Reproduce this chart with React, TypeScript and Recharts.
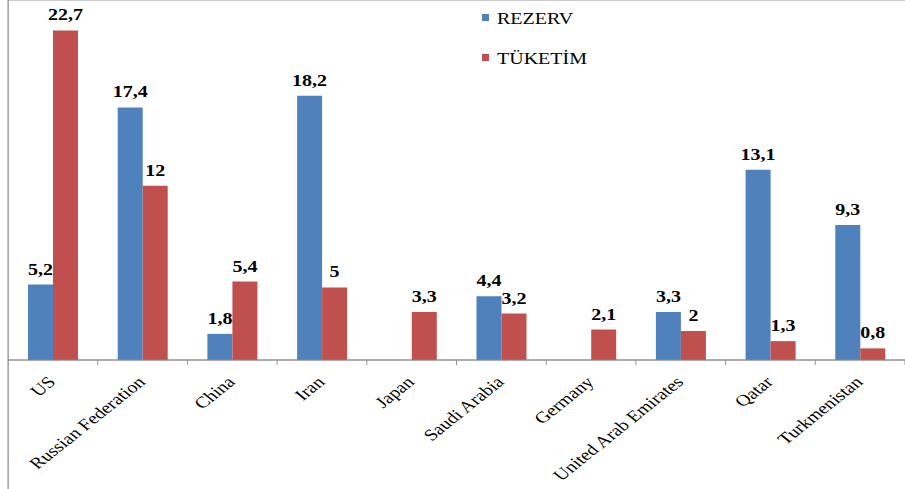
import React from 'react';
import { BarChart, Bar, XAxis, YAxis, CartesianGrid, LabelList, Legend } from 'recharts';

const categories = ['US', 'Russian Federation', 'China', 'Iran', 'Japan', 'Saudi Arabia', 'Germany', 'United Arab Emirates', 'Qatar', 'Turkmenistan'];
const rezerv: (number | null)[] = [5.2, 17.4, 1.8, 18.2, null, 4.4, null, 3.3, 13.1, 9.3];
const tuketim: (number | null)[] = [22.7, 12, 5.4, 5, 3.3, 3.2, 2.1, 2, 1.3, 0.8];
const yTicks = [0, 5, 10, 15, 20];
const seriesNames = ['REZERV', 'TÜKETİM'];

const data = categories.map((c, i) => ({ name: c, rezerv: rezerv[i], tuketim: tuketim[i] }));

const FONT = '"Times New Roman", "Liberation Serif", serif';
const BLUE = '#4F81BD';
const RED = '#C0504D';
const GRID = '#8a8a8a';

const W = 724;
const H = 489;
const LEFT = 6.4;

const fmt = (v: any) => (v === null || v === undefined ? '' : String(v).replace('.', ','));

const XTick = (props: any) => {
  const { x, y, payload } = props;
  const half = payload && payload.offset ? payload.offset : (W - LEFT) / categories.length / 2;
  return (
    <g>
      <line x1={x + half} x2={x + half} y1={y} y2={y + 5} stroke={GRID} strokeWidth={0.8} />
      <text
        transform={`translate(${x + 3},${y + 23}) rotate(-45)`}
        textAnchor="end"
        fontSize={16}
        style={{ fontFamily: FONT }}
        fill="#000"
      >
        {payload.value}
      </text>
    </g>
  );
};

const LegendContent = () => (
  <svg width={130} height={80}>
    <rect x={5.6} y={14} width={5.6} height={7} fill={BLUE} />
    <text x={17.6} y={24} fontSize={16} style={{ fontFamily: FONT }} fill="#000">{seriesNames[0]}</text>
    <rect x={5.6} y={54} width={5.6} height={7} fill={RED} />
    <text x={17.6} y={64} fontSize={16} style={{ fontFamily: FONT }} fill="#000">{seriesNames[1]}</text>
  </svg>
);

export default function App() {
  return (
    <div>
      <style>{`body{margin:0;background:#fff;} .chartwrap svg text{font-family:"Times New Roman","Liberation Serif",serif !important;}`}</style>
      <div className="chartwrap" style={{ width: W, height: H, position: 'relative', transform: 'scaleX(1.25)', transformOrigin: '0 0' }}>
        <div style={{ position: 'absolute', left: LEFT - 0.4, top: 0, width: 0.8, height: H, background: GRID }} />
        <BarChart
          width={W}
          height={H}
          data={data}
          margin={{ top: 0, right: 0, left: LEFT, bottom: 0 }}
          barGap={0}
          barSize={20}
        >
          <CartesianGrid vertical={false} stroke={GRID} strokeWidth={0.8} />
          <XAxis
            dataKey="name"
            interval={0}
            height={129}
            tickSize={0}
            tickMargin={0}
            tickLine={false}
            axisLine={{ stroke: GRID, strokeWidth: 0.8 }}
            tick={<XTick />}
          />
          <YAxis width={0} domain={[0, 24.8]} ticks={yTicks} tick={false} tickLine={false} axisLine={false} />
          <Legend
            layout="vertical"
            align="center"
            verticalAlign="middle"
            content={<LegendContent />}
            wrapperStyle={{ position: 'absolute', left: 380, top: 0, width: 130, height: 80 }}
          />
          <Bar dataKey="rezerv" name={seriesNames[0]} fill={BLUE} isAnimationActive={false}>
            <LabelList dataKey="rezerv" position="top" offset={10} formatter={fmt} fill="#000" fontSize={16} fontWeight="bold" />
          </Bar>
          <Bar dataKey="tuketim" name={seriesNames[1]} fill={RED} isAnimationActive={false}>
            <LabelList dataKey="tuketim" position="top" offset={10} formatter={fmt} fill="#000" fontSize={16} fontWeight="bold" />
          </Bar>
        </BarChart>
      </div>
    </div>
  );
}
